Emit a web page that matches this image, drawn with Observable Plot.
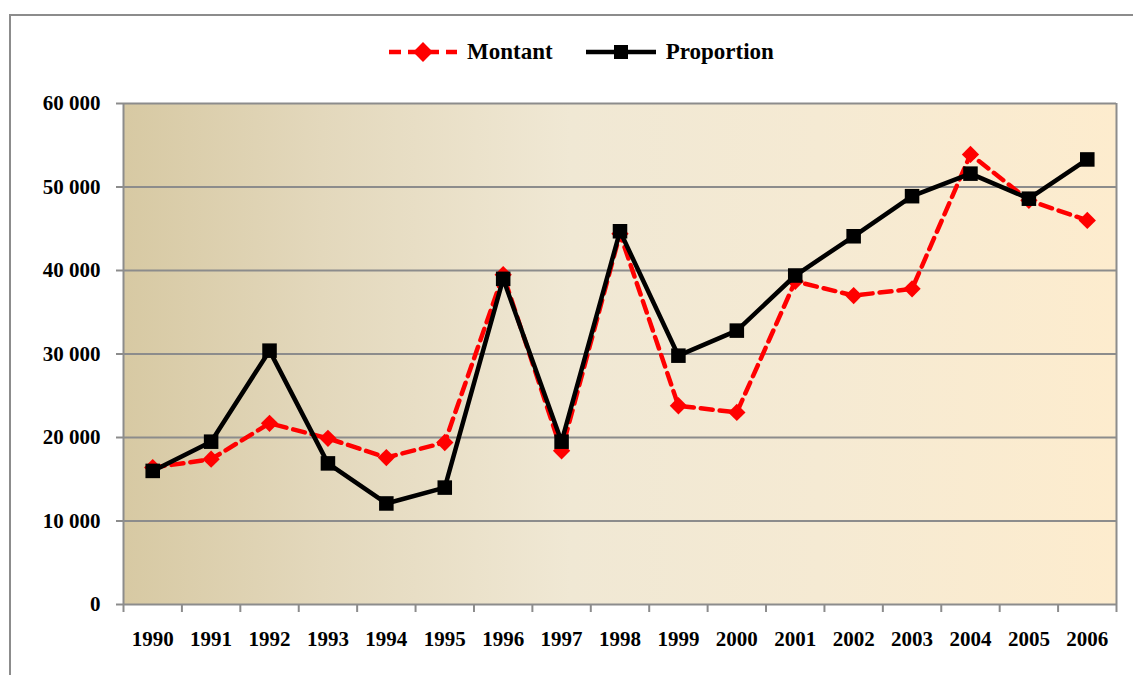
<!DOCTYPE html>
<html><head><meta charset="utf-8">
<script src="https://cdn.jsdelivr.net/npm/d3@7"></script>
<script src="https://cdn.jsdelivr.net/npm/@observablehq/plot@0.6"></script>
<style>
body{margin:0;background:#fff;font-family:"Liberation Serif",serif;}
#frame{position:absolute;left:9px;top:14px;width:1200px;height:800px;border-top:2px solid #8c8c8c;border-left:2px solid #8c8c8c;}
#wrap{position:absolute;left:0;top:0;width:1133px;}
#legend{height:77px;display:flex;align-items:flex-start;padding-top:39px;box-sizing:border-box;padding-left:389px;font-weight:bold;font-size:23px;color:#000;}
#legend .item{display:flex;align-items:center;margin-right:33px;}
#legend svg{margin-right:10px;}
</style></head>
<body>
<div id="frame"></div>
<div id="wrap">
<div id="legend"></div>
<div id="chart"></div>
</div>
<script>
const years = [1990,1991,1992,1993,1994,1995,1996,1997,1998,1999,2000,2001,2002,2003,2004,2005,2006];
const montant = [16400,17400,21700,19900,17600,19400,39500,18400,44400,23800,23000,38700,37000,37800,53900,48400,46000];
const proportion = [16000,19500,30400,16900,12100,14000,39000,19500,44700,29800,32800,39400,44100,48900,51600,48600,53300];
const yTicks = [0,10000,20000,30000,40000,50000,60000];
const seriesNames = ["Montant","Proportion"];

const dataM = years.map((y,i)=>({year:y, value:montant[i]}));
const dataP = years.map((y,i)=>({year:y, value:proportion[i]}));
const bounds = years.map(y=>y-0.5).concat([years[years.length-1]+0.5]);

const fmt = d => d3.format(",")(d).replace(/,/g," ");

// legend
const leg = document.getElementById("legend");
leg.innerHTML = `
<div class="item"><svg width="68" height="20"><line x1="0" y1="10" x2="68" y2="10" stroke="#ff0000" stroke-width="4.5" stroke-dasharray="12,7"/><rect x="27" y="3" width="14" height="14" fill="#ff0000" transform="rotate(45 34 10)"/></svg><span>${seriesNames[0]}</span></div>
<div class="item"><svg width="70" height="20"><line x1="0" y1="10" x2="70" y2="10" stroke="#000" stroke-width="4.5"/><rect x="28" y="3" width="14" height="14" fill="#000"/></svg><span>${seriesNames[1]}</span></div>`;

const chart = Plot.plot({
  width: 1133,
  height: 598,
  marginLeft: 123,
  marginRight: 17,
  marginTop: 26,
  marginBottom: 71,
  style: {fontFamily: "Liberation Serif, serif", fontWeight: "bold", fontSize: "21px", color: "#000", background: "transparent", overflow: "visible"},
  x: {domain: [bounds[0], bounds[bounds.length-1]], axis: null},
  y: {domain: [0, 60000], axis: null},
  marks: [
    Plot.frame({fill: "url(#bgGrad)", stroke: "none"}),
    Plot.ruleY(yTicks, {stroke: "#8c8c8c", strokeWidth: 2}),
    Plot.ruleX([bounds[0], bounds[bounds.length-1]], {stroke: "#8c8c8c", strokeWidth: 2}),
    Plot.axisY({ticks: yTicks, tickFormat: fmt, tickSize: 7, tickPadding: 16, stroke: "#8c8c8c", strokeWidth: 2, fontSize: 21, fill: "#000", label: null}),
    Plot.axisX({ticks: bounds, tickFormat: () => "", tickSize: 8, stroke: "#8c8c8c", strokeWidth: 2, label: null}),
    Plot.axisX({ticks: years, tickFormat: d => String(d), tickSize: 0, tickPadding: 27, fontSize: 21, fill: "#000", label: null}),
    Plot.line(dataM, {x: "year", y: "value", stroke: "#ff0000", strokeWidth: 4.5, strokeDasharray: "12,7"}),
    Plot.dot(dataM, {x: "year", y: "value", symbol: "diamond2", r: 7.8, fill: "#ff0000", stroke: "none"}),
    Plot.line(dataP, {x: "year", y: "value", stroke: "#000", strokeWidth: 4.5}),
    Plot.dot(dataP, {x: "year", y: "value", symbol: "square", r: 8.2, fill: "#000", stroke: "none"})
  ]
});

const svg = d3.select(chart);
const defs = svg.insert("defs", ":first-child");
const g = defs.append("linearGradient").attr("id","bgGrad").attr("x1","0").attr("y1","0").attr("x2","1").attr("y2","0");
[[0,"#d7c9a3"],[0.2,"#e3d8bc"],[0.45,"#f0e8d4"],[0.7,"#f5ead3"],[1,"#fdecce"]].forEach(([o,c])=>g.append("stop").attr("offset",o).attr("stop-color",c));
document.getElementById("chart").appendChild(chart);
</script>
</body></html>
